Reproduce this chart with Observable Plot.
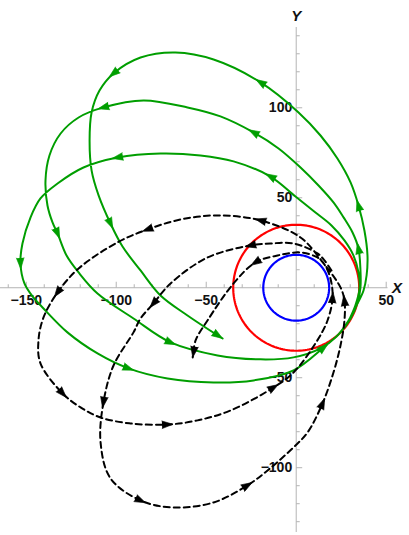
<!DOCTYPE html>
<html><head><meta charset="utf-8">
<script src="https://cdn.jsdelivr.net/npm/d3@7"></script>
<script src="https://cdn.jsdelivr.net/npm/@observablehq/plot@0.6"></script>
<style>body{margin:0;background:#fff} #chart svg{display:block}</style>
</head><body><div id="chart"></div>
<script>
// ---- data ----
const xDomain = [-164.3, 51];
const yDomain = [-136, 144.6];
const xTickLabels = [-150, -100, -50, 50];
const yTickLabels = [-100, -50, 50, 100];
const xMinorTicks = [-160,-150,-140,-130,-120,-110,-100,-90,-80,-70,-60,-50,-40,-30,-20,-10,10,20,30,40,50];
const yMinorTicks = [-130,-120,-110,-100,-90,-80,-70,-60,-50,-40,-30,-20,-10,10,20,30,40,50,60,70,80,90,100,110,120,130,140];
const circleNames = ["outer", "inner"];
const circleRadii = [35, 18.3];

// [x, y, arrow flag] (1 = arrowhead along the path, 2 = arrowhead at the end)
const greenPath = [
  [28.5,-19.8],[32.9,-9.8],[35.2,-0.4],[34.6,8.5],[31.8,18.0],[26.8,26.3],[19.6,34.6],[10.7,41.8],[-0.4,50.7],
  [-14.3,61.8,1],[-34.8,70.2],[-53.2,73.5],[-75.4,74.6],[-99.3,72.4,1],[-118.2,66.8],[-132.6,57.9],[-142.1,49.6],
  [-147.6,39.1],[-152.1,24.6],[-153.2,13.5,1],[-151.0,2.4],[-146.5,-4.8],[-140.4,-11.5],[-127.1,-24.8],[-110.4,-36.5],
  [-93.2,-44.8,1],[-71.5,-50.4],[-45.9,-52.6],[-23.7,-51.5],[-1.5,-45.9],[15.2,-33.2,1],[24.6,-24.8],[30.2,-17.1],
  [34.1,-8.2],[35.7,0.2],[35.7,9.6],[34.6,21.8,1],[31.3,30.7],[26.3,39.1],[20.7,47.4],[12.4,56.8],[2.4,66.8],
  [-9.8,77.4],[-23.7,86.3,1],[-42.1,95.2],[-60.4,100.2],[-84.8,104.1],[-107.1,100.2,1],[-120.9,94.6],[-130.9,85.7],
  [-137.1,73.5],[-139.3,59.6],[-138.2,45.7],[-135.4,36.3],[-132.6,30.2,1],[-127.6,17.9],[-120.9,8.5],[-110.4,-3.2],
  [-90.4,-17.1],[-69.8,-30.4,1],[-43.7,-37.6],[-19.8,-39.8],[-1.5,-38.7],[13.5,-33.7],[22.4,-27.1],[29.1,-18.2],
  [34.1,-8.7],[37.4,-1.5],[39.1,6.8],[39.6,17.9],[37.9,31.8],[34.6,45.7,1],[30.2,58.5],[22.9,71.8],[13.5,84.6],
  [1.3,97.4],[-19.8,114.1,1],[-45.9,126.8],[-67.1,130.7],[-86.5,127.9],[-101.5,119.1,1],[-109.3,109.6],[-113.7,97.4],
  [-114.8,81.8],[-113.7,65.2],[-109.8,51.3],[-103.2,35.7,1],[-96.5,22.9],[-86.5,9.6],[-75.4,-4.3],[-60.4,-15.4],
  [-40.9,-28.2,2]
];

const dashedPath = [
  [19.6,9.6],[15.7,15.2],[11.8,19.1],[-1.5,24.6],[-14.3,24.6],[-25.4,23.5,1],[-49.3,16.8],[-69.8,2.4],
  [-79.3,-8.7,1],[-86.5,-17.1],[-90.4,-24.8],[-101.5,-43.2],[-107.1,-63.7,1],[-108.7,-85.9],[-103.2,-105.9],
  [-86.5,-118.2,1],[-68.2,-122.1],[-45.9,-119.3],[-27.1,-109.8,1],[-15.9,-101.5],[-1.5,-88.7],[6.3,-80.4],
  [14.6,-64.3,1],[20.7,-47.1],[24.6,-32.1],[26.8,-18.2],[26.8,-7.1,1],[24.6,0.2],[15.2,13.5],[2.4,27.9],
  [-19.8,37.4,1],[-43.7,40.2],[-64.3,37.9],[-82.6,32.4,1],[-99.3,25.2],[-120.9,10.7],[-132.6,-2.6,1],
  [-140.4,-16.5],[-143.2,-29.3],[-142.1,-42.0],[-129.8,-58.7,1],[-119.8,-66.5],[-108.7,-72.1],[-92.1,-75.4],
  [-71.5,-76.0,1],[-54.8,-73.7],[-36.5,-68.2],[-12.6,-55.4,1],[-1.5,-47.1],[10.7,-30.9],[17.4,-18.2],
  [20.2,-5.4,1],[19.0,5.2],[15.7,12.9],[11.8,16.8],[2.4,19.6],[-10.4,17.9],[-22.6,14.1,1],[-34.8,2.4],
  [-49.3,-18.2],[-55.9,-29.3],[-57.5,-38.7,2]
];

// ---- build ----
const W = 409, H = 535;
const mL = 0, mR = 21.5, mT = 27, mB = 3;
const k = (W - mL - mR) / (xDomain[1] - xDomain[0]); // px per unit

const toPts = (arr) => arr.map(([x, y, a]) => ({x, y, a: a || 0}));
const arrowsOf = (pts, flag) => pts.map((p, i) => {
  const pr = pts[Math.max(i - 1, 0)], nx = pts[Math.min(i + 1, pts.length - 1)];
  return {x: p.x, y: p.y, a: p.a, angle: Math.atan2(nx.x - pr.x, nx.y - pr.y) * 180 / Math.PI};
}).filter(d => d.a === flag);

const green = toPts(greenPath), dashed = toPts(dashedPath);
const circles = circleNames.map((name, j) =>
  d3.range(0, 361, 2).map(t => ({name, x: circleRadii[j] * Math.cos(t * Math.PI / 180), y: circleRadii[j] * Math.sin(t * Math.PI / 180)})));

const fmt = d => d < 0 ? "\u2212" + Math.abs(d) : String(d);
const isMajor = d => d % 50 === 0;
const axisColor = "#b4b4b4";
const greenColor = "#009e00";
const fontFam = "Liberation Sans, Arial, Helvetica, sans-serif";

const arrowMarks = (pts, color) => [
  Plot.vector(arrowsOf(pts, 1), {x: "x", y: "y", rotate: "angle", length: 11, shape: "spike", r: 3.8, anchor: "middle", fill: color, stroke: color, strokeWidth: 0.6}),
  Plot.vector(arrowsOf(pts, 2), {x: "x", y: "y", rotate: "angle", length: 11, shape: "spike", r: 3.8, anchor: "end", fill: color, stroke: color, strokeWidth: 0.6})
];

const chart = Plot.plot({
  width: W, height: H,
  marginLeft: mL, marginRight: mR, marginTop: mT, marginBottom: mB,
  style: {fontFamily: fontFam, background: "#fff"},
  x: {domain: xDomain, axis: null},
  y: {domain: yDomain, axis: null},
  marks: [
    Plot.ruleY([0], {stroke: axisColor, strokeWidth: 1}),
    Plot.ruleX([0], {stroke: axisColor, strokeWidth: 1}),
    Plot.link(xMinorTicks, {x1: d => d, x2: d => d, y1: 0, y2: d => (isMajor(d) ? 6 : 3.5) / k, stroke: axisColor, strokeWidth: 1}),
    Plot.link(yMinorTicks, {y1: d => d, y2: d => d, x1: 0, x2: d => (isMajor(d) ? 6 : 3.5) / k, stroke: axisColor, strokeWidth: 1}),
    Plot.text(xTickLabels, {x: d => d, y: 0, text: fmt, dy: 13, fontSize: 14, fontWeight: "bold", fill: "#111"}),
    Plot.text(yTickLabels, {x: 0, y: d => d, text: fmt, dx: -4, textAnchor: "end", fontSize: 14, fontWeight: "bold", fill: "#111"}),
    Plot.text(["Y"], {x: 0, frameAnchor: "top", dy: -17, fontSize: 15, fontWeight: "bold", fontStyle: "italic", fill: "#111"}),
    Plot.text(["X"], {y: 0, frameAnchor: "right", dx: 14, fontSize: 15, fontWeight: "bold", fontStyle: "italic", fill: "#111"}),
    Plot.line(circles[0], {x: "x", y: "y", stroke: "#ff0000", strokeWidth: 2.2}),
    Plot.line(circles[1], {x: "x", y: "y", stroke: "#0000ff", strokeWidth: 2.2}),
    Plot.line(green, {x: "x", y: "y", stroke: greenColor, strokeWidth: 2, curve: "catmull-rom"}),
    ...arrowMarks(green, greenColor),
    Plot.line(dashed, {x: "x", y: "y", stroke: "#000", strokeWidth: 2, strokeDasharray: "6,4", curve: "catmull-rom"}),
    ...arrowMarks(dashed, "#000")
  ]
});
document.getElementById("chart").appendChild(chart);
</script>
</body></html>
